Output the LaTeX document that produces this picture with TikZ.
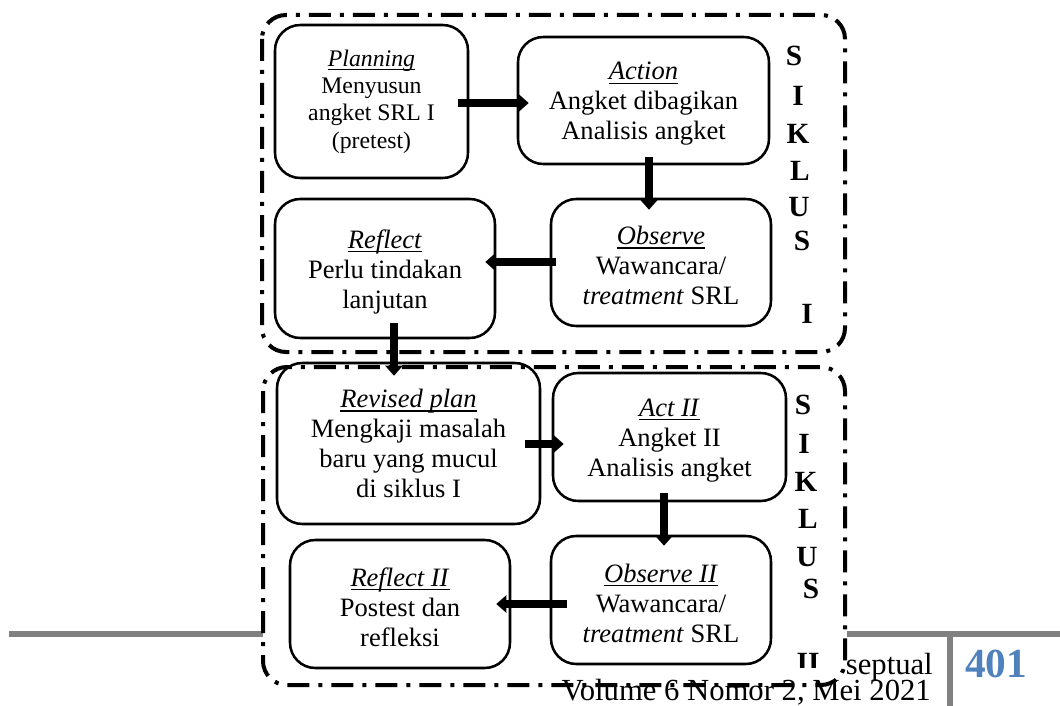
\documentclass[tikz,border=0pt]{standalone}
\usepackage{fontspec}
\setmainfont{Liberation Serif}
\usetikzlibrary{arrows.meta,calc}
\definecolor{pagegray}{HTML}{808080}
\definecolor{pageblue}{HTML}{4F81BD}
\newcommand\myul[1]{\setbox0=\hbox{#1}\rlap{\rule[-3pt]{\wd0}{0.9pt}}\box0}
\newcommand\topfix{\rule{0pt}{18.5pt}}
\begin{document}
\begin{tikzpicture}[x=0.75pt,y=-0.75pt,
  box/.style={draw, line width=1.9pt, rounded corners=19pt, align=center, inner sep=0pt,
    font=\fontsize{19.9}{22.5}\selectfont},
  arr/.style={line width=6pt, -{Triangle[length=7.5pt,width=12.75pt]}},
  outer/.style={line width=3pt, dash pattern=on 16.5pt off 6.75pt on 3pt off 6.75pt, rounded corners=18pt},
  letter/.style={font=\fontsize{22}{26}\selectfont\bfseries, inner sep=0pt},
  foot/.style={font=\fontsize{23}{27}\selectfont, inner sep=0pt},
  gline/.style={pagegray, line width=4.5pt}]
\fill[white] (0,0) rectangle (1060,706);
\useasboundingbox (0,0) rectangle (1060,706);
% footer
\draw[gline] (9,634) -- (263,634);
\draw[gline] (847,634) -- (1060,634);
\draw[gline] (950,631) -- (950,706);
\node[foot, anchor=base east] (sep) at (933,674) {septual};
\node[foot, anchor=base east] (vol) at (931,700) {Volume 6 Nomor 2, Mei 2021};
\node[foot, anchor=base west, font=\fontsize{31}{34}\selectfont\bfseries, text=pageblue] (pg) at (965,677) {401};
% outer cycle frames
\draw[outer] (262,15) rectangle (845,352);
\draw[outer] (263,367) rectangle (845,685);
% boxes
\node[box, minimum width=144.75pt, minimum height=114.75pt, font=\fontsize{17.8}{20.6}\selectfont] (plan) at (371.5,101.5)
  {\myul{\textit{Planning}}\\Menyusun\\angket SRL I\\(pretest)};
\node[box, minimum width=188.25pt, minimum height=95.25pt] (action) at (643.5,100.5)
  {\topfix\myul{\textit{Action}}\\Angket dibagikan\\Analisis angket};
\node[box, minimum width=165pt, minimum height=95.25pt] (observe) at (661,262.5)
  {\topfix\myul{\textit{Observe}}\\Wawancara/\\\textit{treatment} SRL};
\node[box, minimum width=165pt, minimum height=104.25pt] (reflect) at (385,268.5)
  {\topfix\myul{\textit{Reflect}}\\Perlu tindakan\\lanjutan};
\node[box, minimum width=197.25pt, minimum height=120.75pt] (revised) at (408.5,443.5)
  {\myul{\textit{Revised plan}}\\Mengkaji masalah\\baru yang mucul\\di siklus I};
\node[box, minimum width=174.75pt, minimum height=96pt] (act2) at (669.5,437)
  {\topfix\myul{\textit{Act II}}\\Angket II\\Analisis angket};
\node[box, minimum width=165pt, minimum height=96pt] (obs2) at (661,600)
  {\topfix\myul{\textit{Observe II}}\\Wawancara/\\\textit{treatment} SRL};
\node[box, minimum width=165pt, minimum height=96pt] (refl2) at (400,604)
  {\topfix\myul{\textit{Reflect II}}\\Postest dan\\refleksi};
% SIKLUS I
\node[letter] (a1) at (794,56) {S};
\node[letter] (a2) at (798,96) {I};
\node[letter] (a3) at (798,134) {K};
\node[letter] (a4) at (800,171) {L};
\node[letter] (a5) at (799,207) {U};
\node[letter] (a6) at (802,241) {S};
\node[letter] (a7) at (807,314) {I};
% SIKLUS II
\node[letter] (b1) at (803,405) {S};
\node[letter] (b2) at (804,444) {I};
\node[letter] (b3) at (806,482) {K};
\node[letter] (b4) at (808,519) {L};
\node[letter] (b5) at (807,557) {U};
\node[letter] (b6) at (811,589) {S};
\begin{scope}
\clip (770,640) rectangle (835,667);
\node[letter] (b7) at (808,663) {II};
\end{scope}
% arrows
\draw[arr] ($(plan.east)+(-11,1.5)$) -- ($(action.west)+(12,2.5)$);
\draw[arr] ($(action.south)+(5.5,-8)$) -- ($(observe.north)+(-12,12)$);
\draw[arr] ($(observe.west)+(6,-0.5)$) -- ($(reflect.east)+(-11,-6.5)$);
\draw[arr] ($(reflect.south)+(9,-16)$) -- ($(revised.north)+(-14.5,14)$);
\draw[arr] ($(revised.east)+(-16,0.5)$) -- ($(act2.west)+(12,7)$);
\draw[arr] ($(act2.south)+(-5.5,-9)$) -- ($(obs2.north)+(3,11)$);
\draw[arr] ($(obs2.west)+(17,4)$) -- ($(refl2.east)+(-15,0)$);
\end{tikzpicture}
\end{document}
